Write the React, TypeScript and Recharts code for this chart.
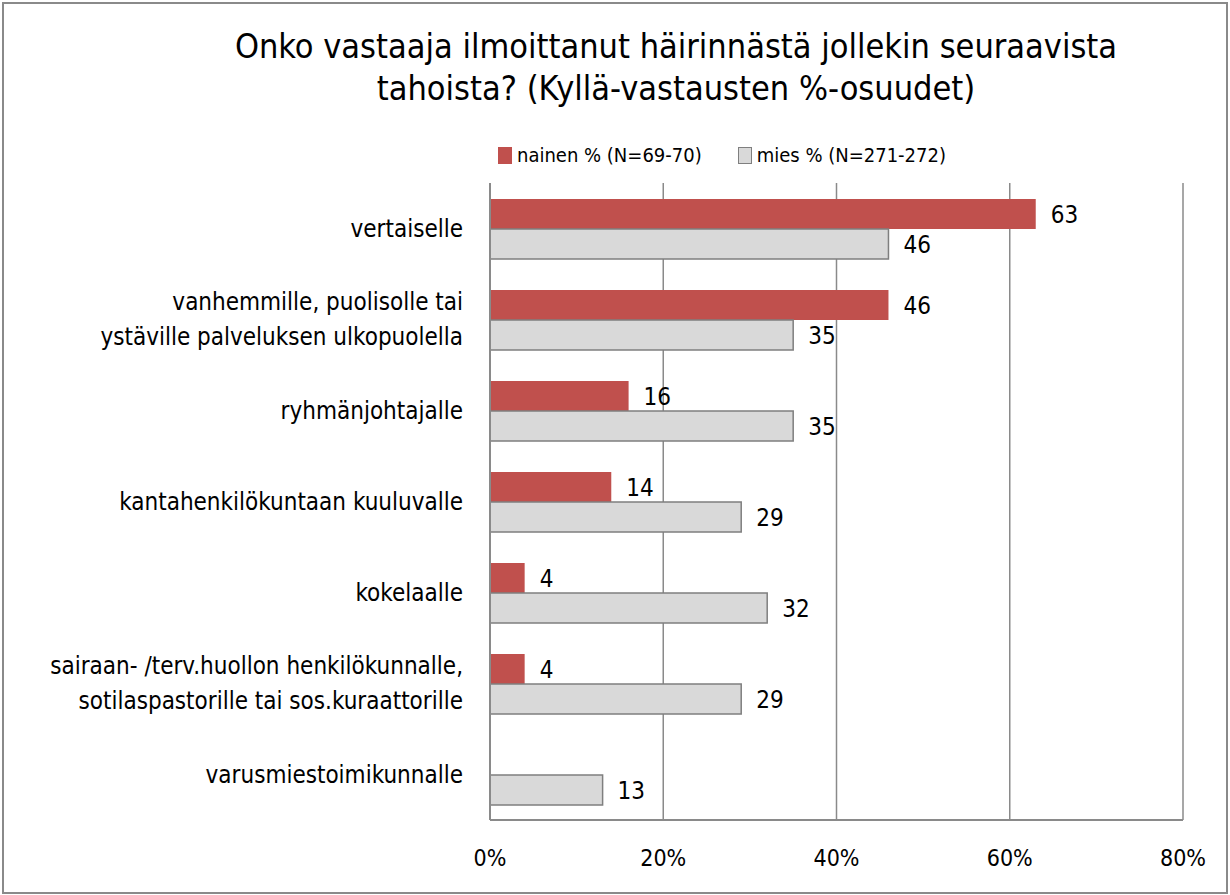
import React from "react";
import { BarChart, Bar, XAxis, YAxis, CartesianGrid, LabelList } from "recharts";

const categories = [
  "vertaiselle",
  "vanhemmille, puolisolle tai\nystäville palveluksen ulkopuolella",
  "ryhmänjohtajalle",
  "kantahenkilökuntaan kuuluvalle",
  "kokelaalle",
  "sairaan- /terv.huollon henkilökunnalle,\nsotilaspastorille tai sos.kuraattorille",
  "varusmiestoimikunnalle",
];
const nainen: (number | null)[] = [63, 46, 16, 14, 4, 4, null];
const mies: number[] = [46, 35, 35, 29, 32, 29, 13];
const xTicks = [0, 20, 40, 60, 80];
const seriesNames = ["nainen % (N=69-70)", "mies % (N=271-272)"];

const data = categories.map((c, i) => ({ name: c, nainen: nainen[i], mies: mies[i] }));

const FONT = '"DejaVu Sans Condensed", sans-serif';
const RED = "#C0504D";
const GRAY = "#D9D9D9";

const YTick = (props: any) => {
  const { x, y, payload } = props;
  const lines = String(payload.value).split("\n");
  const lh = 35;
  const start = y - ((lines.length - 1) * lh) / 2;
  return (
    <g>
      {lines.map((l, i) => (
        <text key={i} x={x} y={start + i * lh} textAnchor="end" dominantBaseline="central"
          fontFamily={FONT} fontSize={24} fill="#000">{l}</text>
      ))}
    </g>
  );
};

const XTick = (props: any) => {
  const { x, y, payload } = props;
  return (
    <text x={x} y={y + 32} textAnchor="middle" dominantBaseline="central"
      fontFamily={FONT} fontSize={23} fill="#000">{payload.value}%</text>
  );
};

export default function App() {
  return (
    <div style={{ position: "absolute", left: 0, top: 0, width: 1230, height: 895, background: "#fff" }}>
      <div style={{ position: "absolute", left: 2, top: 2, width: 1222, height: 888, border: "2px solid #8a8a8a" }} />
      <div style={{ position: "absolute", left: 0, top: 25, width: 1352, textAlign: "center", fontFamily: FONT, fontSize: 34, lineHeight: "42px", color: "#000" }}>
        Onko vastaaja ilmoittanut häirinnästä jollekin seuraavista<br />tahoista? (Kyllä-vastausten %-osuudet)
      </div>
      <div style={{ position: "absolute", left: 498, top: 142, display: "flex", alignItems: "center", fontFamily: FONT, fontSize: 20, lineHeight: "26px", color: "#000" }}>
        <span style={{ display: "inline-block", width: 14, height: 17, background: RED, marginRight: 5 }} />
        <span>{seriesNames[0]}</span>
        <span style={{ display: "inline-block", width: 12, height: 15, background: GRAY, border: "1px solid #7f7f7f", marginLeft: 36, marginRight: 5 }} />
        <span>{seriesNames[1]}</span>
      </div>
      <div style={{ position: "absolute", left: 0, top: 0 }}>
        <BarChart width={1230} height={895} data={data} layout="vertical"
          margin={{ top: 183, right: 47, bottom: 45, left: 0 }} barGap={0} barSize={30}>
          <CartesianGrid horizontal={false} vertical={true} stroke="#8a8a8a" strokeWidth={1.5} />
          <XAxis type="number" domain={[0, 80]} ticks={xTicks} tick={<XTick />} tickLine={false}
            tickMargin={0} axisLine={{ stroke: "#8a8a8a", strokeWidth: 2 }} interval={0} height={30} />
          <YAxis type="category" dataKey="name" width={490} tick={<YTick />} tickLine={false}
            tickMargin={21} axisLine={{ stroke: "#8a8a8a", strokeWidth: 2 }} interval={0} />
          <Bar dataKey="nainen" fill={RED} isAnimationActive={false}>
            <LabelList dataKey="nainen" position="right" offset={15} fontFamily={FONT} fontSize={24} fill="#000"
              formatter={(v: any) => (v == null ? "" : v)} />
          </Bar>
          <Bar dataKey="mies" fill={GRAY} stroke="#7f7f7f" strokeWidth={1.5} isAnimationActive={false}>
            <LabelList dataKey="mies" position="right" offset={15} fontFamily={FONT} fontSize={24} fill="#000" />
          </Bar>
        </BarChart>
      </div>
    </div>
  );
}
